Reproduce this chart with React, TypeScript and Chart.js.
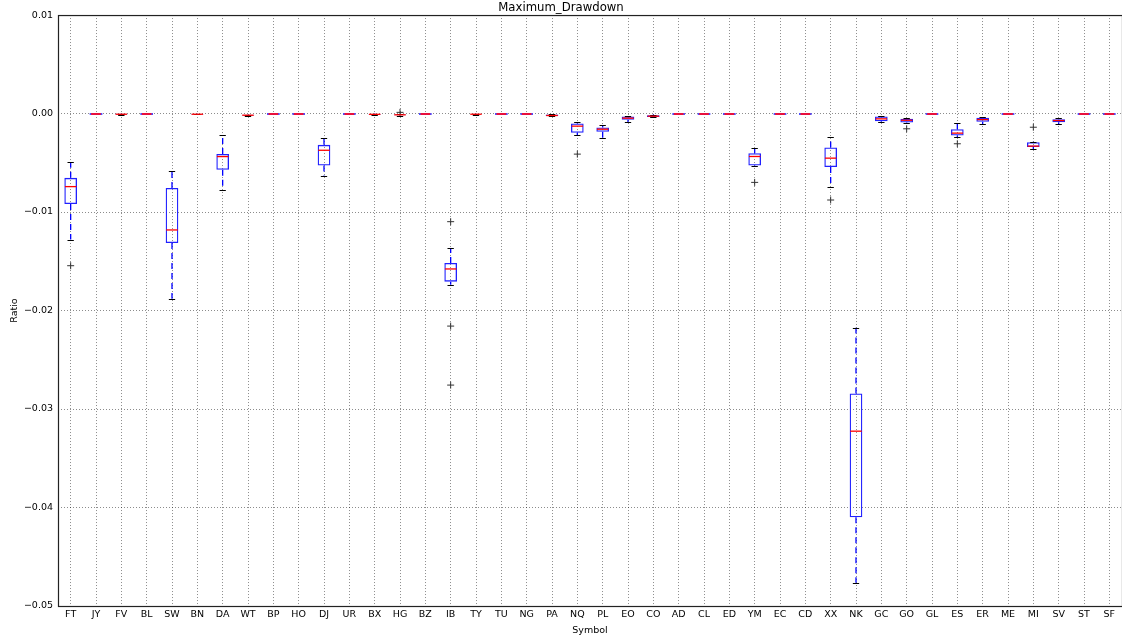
import React, { useEffect, useRef } from 'react';
import { Chart, registerables } from 'chart.js';

Chart.register(...registerables);

const symbols = ['FT','JY','FV','BL','SW','BN','DA','WT','BP','HO','DJ','UR','BX','HG','BZ','IB','TY','TU','NG','PA','NQ','PL','EO','CO','AD','CL','ED','YM','EC','CD','XX','NK','GC','GO','GL','ES','ER','ME','MI','SV','ST','SF'];

const whiskerLow = [-0.0128, 0, -0.00015, -0.00003, -0.0188, -0.0001, -0.00775, -0.00025, 0, 0, -0.00637, 0, -0.00015, -0.0002, -0.00003, -0.01738, -0.0001, -0.00003, -0.00003, -0.0003, -0.00223, -0.0025, -0.00088, -0.0004, 0, -0.00005, -0.00003, -0.00534, 0, 0, -0.00743, -0.04763, -0.00088, -0.00095, -0.00007, -0.0024, -0.00108, 0, -0.00361, -0.00105, 0, -0.00005];
const q1Values = [-0.00918, 0, -0.0001, -0.00003, -0.01314, -0.0001, -0.00572, -0.0002, 0, 0, -0.00528, 0, -0.0001, -0.00017, -0.00003, -0.01707, -0.00008, -0.00003, -0.00003, -0.00025, -0.00196, -0.00186, -0.00064, -0.00034, 0, -0.00003, -0.00003, -0.00527, 0, 0, -0.00544, -0.0410, -0.00078, -0.00091, -0.00007, -0.00223, -0.00084, 0, -0.00341, -0.00088, 0, 0];
const medianValues = [-0.00742, 0, -0.00007, -0.00003, -0.01182, -0.00007, -0.00437, -0.00017, 0, 0, -0.00373, 0, -0.00008, -0.00013, -0.00003, -0.01578, -0.00007, -0.00003, -0.00003, -0.0002, -0.00128, -0.00159, -0.00047, -0.00027, 0, -0.00003, -0.00003, -0.00436, 0, 0, -0.00453, -0.03225, -0.00054, -0.00068, -0.00007, -0.00199, -0.00061, 0, -0.00331, -0.00071, 0, 0];
const q3Values = [-0.00653, 0, -0.00003, -0.00003, -0.00755, -0.00005, -0.0041, -0.00013, 0, 0, -0.00318, 0, -0.00005, -0.0001, -0.00003, -0.01517, -0.00005, -0.00003, -0.00003, -0.0001, -0.00101, -0.00142, -0.0003, -0.00017, 0, -0.00003, -0.00003, -0.00402, 0, 0, -0.00345, -0.02842, -0.0003, -0.00054, -0.00007, -0.00159, -0.00044, 0, -0.00291, -0.00057, 0, 0];
const whiskerHigh = [-0.00491, 0, 0, -0.00003, -0.00582, -0.00003, -0.0022, -0.0001, 0, 0, -0.00244, 0, 0, -0.00005, -0.00003, -0.01369, -0.00003, -0.00003, -0.00003, -0.00005, -0.00088, -0.00118, -0.00027, -0.0001, 0, 0, -0.00003, -0.00355, 0, 0, -0.0024, -0.02176, -0.00024, -0.00047, -0.00007, -0.00098, -0.0004, 0, -0.00287, -0.0005, 0, 0.00005];

const outlierSymbols = ['FT','HG','IB','IB','IB','NQ','YM','XX','GO','ES','MI'];
const outlierValues = [-0.01545, 0.00012, -0.01098, -0.02158, -0.02757, -0.00412, -0.00699, -0.00878, -0.00155, -0.00307, -0.00139];

const yMin = -0.05;
const yMax = 0.01;
const yStep = 0.01;

const FONT = 'DejaVu Sans';

function fmtTick(v: number | string): string {
  let s = Number(v).toFixed(2);
  if (s === '-0.00') s = '0.00';
  return s.replace('-', '\u2212');
}

export default function App() {
  const ref = useRef<HTMLCanvasElement>(null);

  useEffect(() => {
    document.body.style.margin = '0';
    const canvas = ref.current;
    if (!canvas) return;

    const boxPlugin = {
      id: 'boxWhiskers',
      beforeDatasetsDraw(chart: any) {
        const { ctx, scales } = chart;
        const x = scales.x;
        const y = scales.y;
        ctx.save();
        ctx.strokeStyle = '#0000ff';
        ctx.lineWidth = 1.3;
        ctx.setLineDash([6, 4]);
        symbols.forEach((_s, i) => {
          const px = x.getPixelForValue(i);
          ctx.beginPath();
          ctx.moveTo(px, y.getPixelForValue(q3Values[i]));
          ctx.lineTo(px, y.getPixelForValue(whiskerHigh[i]));
          ctx.moveTo(px, y.getPixelForValue(q1Values[i]));
          ctx.lineTo(px, y.getPixelForValue(whiskerLow[i]));
          ctx.stroke();
        });
        ctx.restore();
      },
      afterDatasetsDraw(chart: any) {
        const { ctx, scales } = chart;
        const x = scales.x;
        const y = scales.y;
        const step = x.getPixelForValue(1) - x.getPixelForValue(0);
        const boxHalf = step * 0.25;
        const capHalf = step * 0.125;
        ctx.save();
        ctx.setLineDash([]);
        symbols.forEach((_s, i) => {
          const cx = x.getPixelForValue(i);
          const flat = q1Values[i] === q3Values[i];
          // caps (skipped where the whisker has no length)
          ctx.strokeStyle = '#000000';
          ctx.lineWidth = 1;
          const capVals: number[] = [];
          if (whiskerHigh[i] !== q3Values[i]) capVals.push(whiskerHigh[i]);
          if (whiskerLow[i] !== q1Values[i]) capVals.push(whiskerLow[i]);
          capVals.forEach((v) => {
            const py = Math.round(y.getPixelForValue(v)) + 0.5;
            ctx.beginPath();
            ctx.moveTo(cx - capHalf, py);
            ctx.lineTo(cx + capHalf, py);
            ctx.stroke();
          });
          // flat box outline (when q1 == q3)
          if (flat) {
            ctx.strokeStyle = '#5050ff';
            ctx.lineWidth = 2;
            const py = Math.round(y.getPixelForValue(q3Values[i]));
            ctx.beginPath();
            ctx.moveTo(cx - boxHalf, py);
            ctx.lineTo(cx + boxHalf, py);
            ctx.stroke();
          }
          // median
          ctx.strokeStyle = flat ? '#e8103c' : '#ff0000';
          ctx.lineWidth = flat ? 2 : 1.3;
          const my = flat ? Math.round(y.getPixelForValue(medianValues[i])) : y.getPixelForValue(medianValues[i]);
          const inset = flat ? 1.5 : 0.6;
          ctx.beginPath();
          ctx.moveTo(cx - boxHalf + inset, my);
          ctx.lineTo(cx + boxHalf - inset, my);
          ctx.stroke();
        });
        ctx.restore();
      },
      afterDraw(chart: any) {
        const { ctx, chartArea } = chart;
        ctx.save();
        ctx.strokeStyle = '#222222';
        ctx.lineWidth = 1.2;
        ctx.setLineDash([]);
        ctx.strokeRect(chartArea.left + 0.5, chartArea.top + 0.5, chartArea.right - chartArea.left, chartArea.bottom - chartArea.top);
        ctx.restore();
      },
    };

    const tickFont = { family: FONT, size: 9.5 };

    const chart = new Chart(canvas, {
      type: 'bar',
      data: {
        labels: symbols,
        datasets: [
          {
            type: 'bar',
            data: symbols.map((_s, i) => [q1Values[i], q3Values[i]]) as any,
            backgroundColor: 'rgba(0,0,0,0)',
            borderColor: '#2020ff',
            borderWidth: 1.3,
            borderSkipped: false,
            barPercentage: 0.5,
            categoryPercentage: 1,
            grouped: false,
          } as any,
          {
            type: 'line',
            data: outlierSymbols.map((s, i) => ({ x: s, y: outlierValues[i] })) as any,
            showLine: false,
            pointStyle: 'cross',
            pointRadius: 3.5,
            pointBorderColor: '#333333',
            pointBackgroundColor: '#333333',
            pointBorderWidth: 1,
          } as any,
        ],
      },
      options: {
        responsive: false,
        animation: false,
        events: [],
        layout: { autoPadding: false, padding: { top: 0, right: 0, bottom: 0, left: 0 } },
        plugins: {
          legend: { display: false },
          tooltip: { enabled: false },
          title: {
            display: true,
            text: 'Maximum_Drawdown',
            color: '#000000',
            font: { family: FONT, size: 11.7, weight: 'normal' },
            padding: { top: 1, bottom: 0 },
          },
        },
        scales: {
          x: {
            type: 'category',
            offset: true,
            grid: { offset: false, color: 'rgba(0,0,0,0.45)', lineWidth: 1, drawTicks: false },
            border: { display: false, dash: [1, 2] },
            ticks: { font: tickFont, color: '#000000', padding: 3, autoSkip: false, maxRotation: 0 },
            title: { display: true, text: 'Symbol', color: '#000000', font: tickFont, padding: { top: 0, bottom: 2 } },
            afterFit(scale: any) { scale.height = 32; scale.paddingLeft = 0; scale.paddingRight = 0; },
          },
          y: {
            type: 'linear',
            min: yMin,
            max: yMax,
            grid: { color: 'rgba(0,0,0,0.45)', lineWidth: 1, drawTicks: false },
            border: { display: false, dash: [1, 2] },
            ticks: { stepSize: yStep, font: tickFont, color: '#000000', padding: 5, callback: (v: any) => fmtTick(v) },
            title: { display: true, text: 'Ratio', color: '#000000', font: tickFont, padding: { top: 9, bottom: 0 } },
            afterFit(scale: any) { scale.width = 58; },
          },
        },
      } as any,
      plugins: [boxPlugin],
    });

    return () => chart.destroy();
  }, []);

  return (
    <div style={{ width: 1122, height: 638 }}>
      <canvas ref={ref} width={1122} height={638} style={{ display: 'block' }} />
    </div>
  );
}
